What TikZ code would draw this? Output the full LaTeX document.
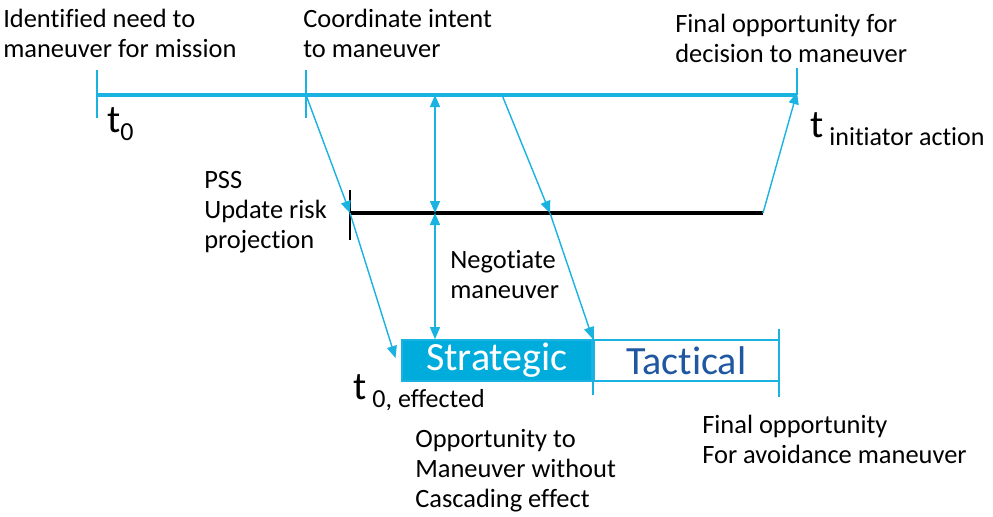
\documentclass[tikz,border=0pt]{standalone}
\usepackage{fontspec}
\setmainfont{Carlito}[Ligatures=NoCommon]
\usetikzlibrary{arrows.meta,positioning}
\definecolor{linecyan}{RGB}{25,178,225}
\definecolor{boxcyan}{RGB}{0,172,220}
\definecolor{tacblue}{RGB}{31,88,160}
\newcommand{\bigt}{{\fontsize{28}{30}\selectfont t}}

\begin{document}
\begin{tikzpicture}[x=0.025cm,y=-0.025cm,
    >={Triangle[length=0.3cm,width=0.25cm]},
    every node/.style={font=\fontsize{18.8}{21.3}\selectfont,inner sep=0pt},
    note/.style={align=left,anchor=base west},
    timeline/.style={linecyan,line width=2.2pt},
    pssline/.style={black,line width=2.3pt},
    tick/.style={linecyan,line width=1pt},
    msg/.style={->,linecyan,line width=1pt},
    phase/.style={draw=linecyan,line width=1.2pt,minimum width=4.75cm,
        minimum height=1.025cm,font=\fontsize{28.5}{30}\selectfont}]
    \useasboundingbox (0,0) rectangle (993,516);

    % time line of the initiator
    \coordinate (t0)     at (97,95);
    \coordinate (tcoord) at (306,95);
    \coordinate (tneg)   at (435,95);
    \coordinate (tdec)   at (502,95);
    \coordinate (tend)   at (797,95);
    % PSS line
    \coordinate (pss)    at (350,213);
    \coordinate (pneg)   at (435,213);
    \coordinate (pdec)   at (550,213);
    \coordinate (pend)   at (763,213);

    % phases of the effected operator
    \node[phase,fill=boxcyan,text=white] (strat) at (497,360.5) {Strategic};
    \node[phase,fill=white,text=tacblue,minimum width=4.62cm,right=0pt of strat] (tact) {Tactical};

    \draw[timeline] (t0) -- (tend);
    \draw[tick] (97,70) -- (97,118);
    \draw[tick] (306,70) -- (306,118);
    \draw[tick] (797,68) -- (tend);
    \draw[pssline] (pss) -- (pend);
    \draw[black,line width=0.8pt] (350,190) -- (350,240);
    \draw[tick,line width=1.4pt] (strat.north east) ++(0,-10) -- ++(0,66);
    \draw[tick,line width=1.4pt] (tact.north east) ++(0,-10) -- ++(0,68);

    \draw[msg] (tcoord) -- (pss);
    \draw[msg] (pss) -- ([xshift=-4]strat.west |- 0,358);
    \draw[msg,<->] (tneg) -- (pneg);
    \draw[msg,<->] (pneg) -- (strat.north -| pneg);
    \draw[msg] (tdec) -- (pdec);
    \draw[msg] (pdec) -- (strat.north east);
    \draw[msg] (pend) -- ([yshift=2]tend);

    % labels (anchored at the baseline of their last line)
    \node[note] (need)  at (3,57)    {Identified need to\\maneuver for mission};
    \node[note] (intent) at (303,57) {Coordinate intent\\to maneuver};
    \node[note] (last)  at (675,62)  {Final opportunity for\\decision to maneuver};
    \node[note] (lt0)   at (107,132) {\bigt\raisebox{-0.2cm}{\fontsize{18.5}{20}\selectfont 0}};
    \node[note] (lini)  at (810,137) {\bigt\ \raisebox{-0.2cm}{\fontsize{18.5}{20}\selectfont initiator action}};
    \node[note] (lpss)  at (204,248) {PSS\\Update risk\\projection};
    \node[note] (lneg)  at (450,298) {Negotiate\\maneuver};
    \node[note] (leff)  at (353,399) {\bigt\ \raisebox{-0.2cm}{\fontsize{18.5}{20}\selectfont 0, effected}};
    \node[note] (lopp)  at (415,507) {Opportunity to\\Maneuver without\\Cascading effect};
    \node[note] (lavoid) at (702,463) {Final opportunity\\For avoidance maneuver};
\end{tikzpicture}
\end{document}
